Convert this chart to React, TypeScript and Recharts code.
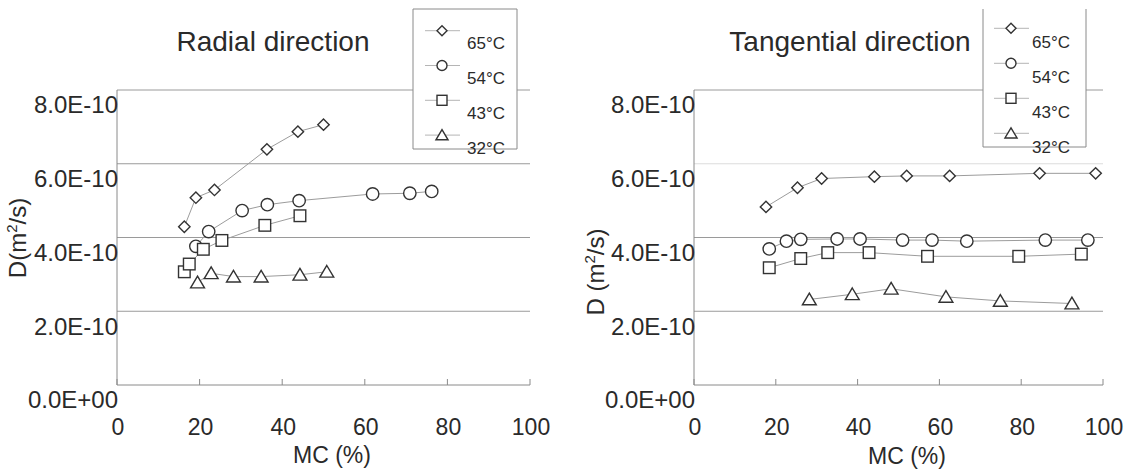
import React from "react";
import { ScatterChart, Scatter, XAxis, YAxis, ReferenceLine } from "recharts";

const FONT = '"Liberation Sans", Arial, sans-serif';
const TEXT = "#2a2a2a";
const AXIS = "#8a8a8a";
const GRID = "#9a9a9a";
const LINK = "#9c9c9c";
const MARK = "#333";

const SERIES_NAMES = ["65°C", "54°C", "43°C", "32°C"];
const SERIES_SHAPES = ["diamond", "circle", "square", "triangle"];

const X_TICKS = [0, 20, 40, 60, 80, 100];
const Y_TICKS = [0, 2e-10, 4e-10, 6e-10, 8e-10];
const Y_TICK_LABELS = ["0.0E+00", "2.0E-10", "4.0E-10", "6.0E-10", "8.0E-10"];

// radial direction: MC (%) and D (m2/s)
const RAD_65_MC = [16.3, 19.1, 23.6, 36.3, 43.8, 50.0];
const RAD_65_D = [4.29e-10, 5.08e-10, 5.29e-10, 6.39e-10, 6.87e-10, 7.06e-10];
const RAD_54_MC = [19.1, 22.2, 30.3, 36.4, 44.1, 61.9, 70.9, 76.2];
const RAD_54_D = [3.76e-10, 4.16e-10, 4.73e-10, 4.89e-10, 5.0e-10, 5.18e-10, 5.2e-10, 5.25e-10];
const RAD_43_MC = [16.3, 17.5, 20.9, 25.4, 35.8, 44.3];
const RAD_43_D = [3.07e-10, 3.28e-10, 3.68e-10, 3.92e-10, 4.33e-10, 4.59e-10];
const RAD_32_MC = [19.5, 22.8, 28.2, 34.9, 44.3, 50.8];
const RAD_32_D = [2.78e-10, 3.03e-10, 2.94e-10, 2.94e-10, 2.99e-10, 3.07e-10];

// tangential direction
const TAN_65_MC = [17.6, 25.3, 31.2, 44.1, 52.0, 62.5, 84.5, 98.2];
const TAN_65_D = [4.83e-10, 5.35e-10, 5.6e-10, 5.65e-10, 5.67e-10, 5.67e-10, 5.74e-10, 5.74e-10];
const TAN_54_MC = [18.4, 22.6, 26.1, 35.0, 40.6, 51.0, 58.2, 66.7, 85.9, 96.3];
const TAN_54_D = [3.69e-10, 3.9e-10, 3.95e-10, 3.96e-10, 3.96e-10, 3.93e-10, 3.93e-10, 3.9e-10, 3.93e-10, 3.93e-10];
const TAN_43_MC = [18.4, 26.1, 32.7, 42.8, 57.1, 79.4, 94.7];
const TAN_43_D = [3.18e-10, 3.43e-10, 3.59e-10, 3.59e-10, 3.49e-10, 3.49e-10, 3.55e-10];
const TAN_32_MC = [28.2, 38.7, 48.2, 61.6, 74.9, 92.4];
const TAN_32_D = [2.32e-10, 2.46e-10, 2.61e-10, 2.39e-10, 2.28e-10, 2.21e-10];

const zip = (mc: number[], d: number[]) => mc.map((x, i) => ({ mc: x, d: d[i] }));

const RADIAL = [zip(RAD_65_MC, RAD_65_D), zip(RAD_54_MC, RAD_54_D), zip(RAD_43_MC, RAD_43_D), zip(RAD_32_MC, RAD_32_D)];
const TANGENTIAL = [zip(TAN_65_MC, TAN_65_D), zip(TAN_54_MC, TAN_54_D), zip(TAN_43_MC, TAN_43_D), zip(TAN_32_MC, TAN_32_D)];

function Marker({ kind, cx, cy, s }: { kind: string; cx: number; cy: number; s: number }) {
  const st = { fill: "#fff", stroke: MARK, strokeWidth: 1.4 };
  if (kind === "diamond")
    return <polygon points={`${cx},${cy - s} ${cx + s},${cy} ${cx},${cy + s} ${cx - s},${cy}`} {...st} />;
  if (kind === "circle") return <circle cx={cx} cy={cy} r={s} {...st} />;
  if (kind === "square") return <rect x={cx - s} y={cy - s} width={2 * s} height={2 * s} {...st} />;
  return (
    <polygon
      points={`${cx},${cy - s} ${cx + s * 1.1},${cy + s * 0.85} ${cx - s * 1.1},${cy + s * 0.85}`}
      {...st}
    />
  );
}

const PLOT_SIZE: Record<string, number> = { diamond: 5.7, circle: 6.2, square: 5.8, triangle: 6.3 };

const YTick = (props: any) => {
  const { x, y, payload } = props;
  const i = Math.round(payload.value / 2e-10);
  return (
    <text x={x + 1} y={y + 15} dy="0.35em" textAnchor="end" fontSize={24} fill={TEXT} fontFamily={FONT}>
      {Y_TICK_LABELS[i]}
    </text>
  );
};

const XTick = (props: any) => {
  const { x, y, payload } = props;
  return (
    <g>
      <line x1={x} x2={x} y1={y} y2={y - 6} stroke={AXIS} />
      <text x={x + 1} y={y + 42} dy="0.35em" textAnchor="middle" fontSize={23} fill={TEXT} fontFamily={FONT}>
        {payload.value}
      </text>
    </g>
  );
};

function Panel({
  left,
  width,
  yAxisWidth,
  rightMargin,
  series,
  faint,
}: {
  left: number;
  width: number;
  yAxisWidth: number;
  rightMargin: number;
  series: { mc: number; d: number }[][];
  faint: number[];
}) {
  return (
    <div style={{ position: "absolute", left, top: 0 }}>
      <ScatterChart width={width} height={472} margin={{ top: 90, right: rightMargin, bottom: 27, left: 0 }}>
        <XAxis
          type="number"
          dataKey="mc"
          domain={[0, 100]}
          ticks={X_TICKS}
          height={60}
          axisLine={{ stroke: AXIS }}
          tickLine={false}
          tickSize={0}
          tickMargin={0}
          tick={XTick}
          interval={0}
        />
        <YAxis
          type="number"
          dataKey="d"
          domain={[0, 8e-10]}
          ticks={Y_TICKS}
          width={yAxisWidth}
          axisLine={{ stroke: AXIS }}
          tickLine={false}
          tickSize={0}
          tickMargin={0}
          tick={YTick}
          interval={0}
        />
        {Y_TICKS.slice(1).map((v, i) => (
          <ReferenceLine key={v} y={v} stroke={faint.includes(i) ? "#dcdcdc" : GRID} strokeWidth={1} />
        ))}
        {series.map((pts, i) => (
          <Scatter
            key={SERIES_NAMES[i]}
            name={SERIES_NAMES[i]}
            data={pts}
            line={{ stroke: LINK, strokeWidth: 1 }}
            lineType="joint"
            isAnimationActive={false}
            shape={(p: any) => (
              <Marker kind={SERIES_SHAPES[i]} cx={p.cx} cy={p.cy} s={PLOT_SIZE[SERIES_SHAPES[i]]} />
            )}
          />
        ))}
      </ScatterChart>
    </div>
  );
}

function LegendBox({
  x,
  y,
  w,
  h,
  markerX,
  firstY,
  step,
  labelX,
  labelDy,
  noTop,
}: {
  x: number;
  y: number;
  w: number;
  h: number;
  markerX: number;
  firstY: number;
  step: number;
  labelX: number;
  labelDy: number;
  noTop?: boolean;
}) {
  return (
    <svg
      width={w + 2}
      height={h + 2}
      style={{ position: "absolute", left: x - 1, top: y - 1, overflow: "visible" }}
    >
      <rect x={1} y={1} width={w} height={h} fill="#fff" stroke="none" />
      <path
        d={noTop ? `M1,1 V${h + 1} H${w + 1} V1` : `M1,1 V${h + 1} H${w + 1} V1 Z`}
        fill="none"
        stroke={AXIS}
        strokeWidth={1}
      />
      {SERIES_NAMES.map((name, i) => {
        const my = firstY + i * step - y + 1;
        const mx = markerX - x + 1;
        return (
          <g key={name}>
            <line x1={mx - 17} x2={mx + 18} y1={my} y2={my} stroke="#b5b5b5" />
            <Marker kind={SERIES_SHAPES[i]} cx={mx} cy={my} s={SERIES_SHAPES[i] === "triangle" ? 5.5 : 5} />
            <text
              x={labelX - x + 1}
              y={my + labelDy}
              dy="0.35em"
              fontSize={17}
              fill={TEXT}
              fontFamily={FONT}
            >
              {name}
            </text>
          </g>
        );
      })}
    </svg>
  );
}

const textStyle: React.CSSProperties = {
  position: "absolute",
  fontFamily: FONT,
  color: TEXT,
  whiteSpace: "nowrap",
  lineHeight: 1,
  textAlign: "center",
};

function YTitle({ cx, cy, children }: { cx: number; cy: number; children: React.ReactNode }) {
  return (
    <div
      style={{
        ...textStyle,
        left: cx - 100,
        top: cy - 12,
        width: 200,
        height: 24,
        fontSize: 24,
        transform: "rotate(-90deg)",
      }}
    >
      {children}
    </div>
  );
}

export default function App() {
  return (
    <div
      style={{
        position: "absolute",
        left: 0,
        top: 0,
        width: 1137,
        height: 472,
        background: "#fff",
        overflow: "hidden",
      }}
    >
      <Panel left={0} width={568} yAxisWidth={117} rightMargin={38} series={RADIAL} faint={[]} />
      <Panel left={568} width={569} yAxisWidth={126} rightMargin={34} series={TANGENTIAL} faint={[2]} />

      <div style={{ ...textStyle, left: 123, top: 28, width: 300, fontSize: 28 }}>Radial direction</div>
      <div style={{ ...textStyle, left: 700, top: 28, width: 300, fontSize: 28 }}>Tangential direction</div>

      <div style={{ ...textStyle, left: 232, top: 444, width: 200, fontSize: 23 }}>MC (%)</div>
      <div style={{ ...textStyle, left: 807, top: 445, width: 200, fontSize: 23 }}>MC (%)</div>

      <YTitle cx={18} cy={238}>
        D(m<sup style={{ fontSize: 15, verticalAlign: "9px", lineHeight: 0 }}>2</sup>/s)
      </YTitle>
      <YTitle cx={596} cy={272}>
        D (m<sup style={{ fontSize: 15, verticalAlign: "9px", lineHeight: 0 }}>2</sup>/s)
      </YTitle>

      <LegendBox x={413} y={9} w={104} h={140} markerX={442} firstY={30.7} step={34.8} labelX={467} labelDy={12.5} />
      <LegendBox
        x={983}
        y={9}
        w={103}
        h={138}
        markerX={1011}
        firstY={28.3}
        step={35}
        labelX={1032}
        labelDy={14}
        noTop
      />
    </div>
  );
}
